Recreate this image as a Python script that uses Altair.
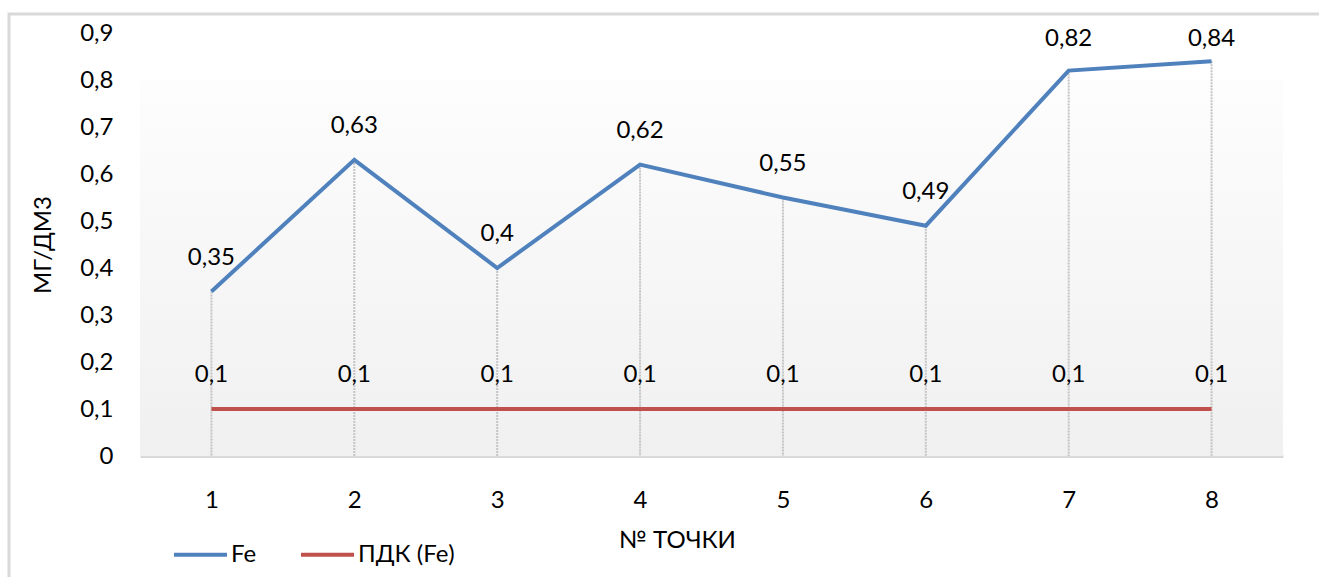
import altair as alt
import pandas as pd

points = [1, 2, 3, 4, 5, 6, 7, 8]
fe = [0.35, 0.63, 0.4, 0.62, 0.55, 0.49, 0.82, 0.84]
pdk = [0.1, 0.1, 0.1, 0.1, 0.1, 0.1, 0.1, 0.1]
series_names = ["Fe", "ПДК (Fe)"]
series_colors = ["#4f81bd", "#c0504d"]
y_ticks = [0, 0.1, 0.2, 0.3, 0.4, 0.5, 0.6, 0.7, 0.8, 0.9]

rows = []
for p, v in zip(points, fe):
    rows.append({"point": p, "value": v, "series": series_names[0]})
for p, v in zip(points, pdk):
    rows.append({"point": p, "value": v, "series": series_names[1]})
df = pd.DataFrame(rows)
df_fe = pd.DataFrame({"point": points, "value": fe})

W, H = 1143, 423
FONT = "Lato"
FS = 24

x_enc = alt.X("point:O", scale=alt.Scale(type="point", padding=0.5),
              axis=alt.Axis(title="№ ТОЧКИ", labelAngle=0, labelFontSize=FS,
                            titleFontSize=FS, titleFontWeight="normal",
                            labelPadding=32, domainColor="#d9d9d9", domainWidth=3,
                            ticks=False, grid=False, titleX=537, titleY=84,
                            titleBaseline="middle", labelColor="#000", titleColor="#000"))
y_scale = alt.Scale(domain=[0, 0.9], nice=False)

background = alt.Chart(pd.DataFrame({"a": [0]})).mark_rect(
    color=alt.Gradient(gradient="linear", x1=0, y1=0, x2=0, y2=1,
                       stops=[alt.GradientStop(color="#fdfdfd", offset=0),
                              alt.GradientStop(color="#f0f0f0", offset=1)])
).encode(x=alt.value(0), x2=alt.value(W), y=alt.value(47), y2=alt.value(H))

border = alt.Chart(pd.DataFrame({"a": [0]})).mark_rect(
    fill=None, stroke="#d9d9d9", strokeWidth=3
).encode(x=alt.value(-131), x2=alt.value(W + 60), y=alt.value(-19), y2=alt.value(H + 200))

drops = alt.Chart(df_fe).mark_rule(color="#c4c4c4", strokeWidth=2, strokeDash=[2, 1]).encode(
    x=x_enc,
    y=alt.Y("value:Q", scale=y_scale),
    y2=alt.datum(0),
)

lines = alt.Chart(df).mark_line(strokeWidth=4).encode(
    x=x_enc,
    y=alt.Y("value:Q", scale=y_scale,
            axis=alt.Axis(title="МГ/ДМ3", values=y_ticks, labelFontSize=FS,
                          titleFontSize=FS, titleFontWeight="normal",
                          labelExpr="datum.value == 0 ? '0' : replace(format(datum.value, '.1f'), '.', ',')",
                          domain=False, ticks=False, grid=False, labelPadding=27,
                          titlePadding=24, labelColor="#000", titleColor="#000")),
    color=alt.Color("series:N", scale=alt.Scale(domain=series_names, range=series_colors),
                    legend=alt.Legend(title=None, orient="none", legendX=32, legendY=493,
                                      direction="horizontal", symbolType="stroke",
                                      symbolSize=2809, symbolStrokeWidth=4,
                                      labelFontSize=FS, labelColor="#000",
                                      columnPadding=36, labelOffset=2,
                                      labelLimit=300)),
    detail="series:N",
)

labels = alt.Chart(df).transform_calculate(
    lbl="replace(toString(datum.value), '.', ',')",
    ly="min(datum.value, 0.815)",
).mark_text(fontSize=FS, dy=-34, color="#000").encode(
    x=x_enc,
    y=alt.Y("ly:Q", scale=y_scale),
    text="lbl:N",
)

chart = alt.layer(background, border, drops, lines, labels).properties(
    width=W, height=H,
    autosize=alt.AutoSizeParams(type="none"),
    padding={"left": 140, "top": 33, "right": 36, "bottom": 121},
).configure(font=FONT).configure_view(stroke=None)

chart.save("out.html", embed_options={"renderer": "svg", "actions": False})
